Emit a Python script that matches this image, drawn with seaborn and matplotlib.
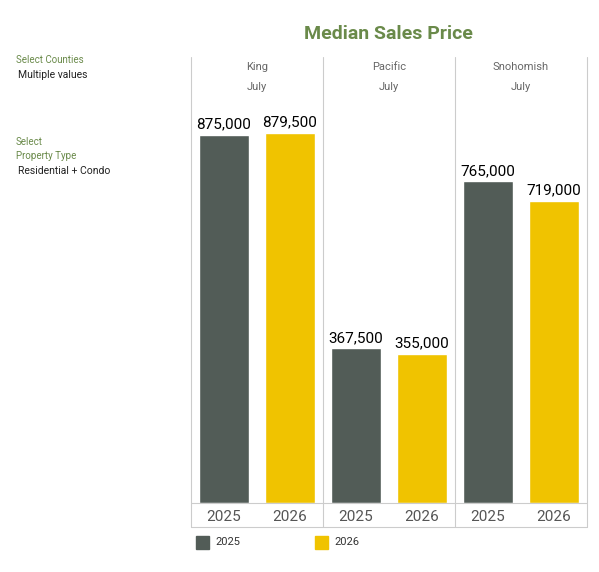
import matplotlib
matplotlib.use("Agg")
import matplotlib.pyplot as plt
import seaborn as sns
import pandas as pd
from matplotlib.lines import Line2D
from matplotlib.patches import Rectangle

counties = ["King", "Pacific", "Snohomish"]
years = ["2025", "2026"]
prices_2025 = [875000, 367500, 765000]
prices_2026 = [879500, 355000, 719000]

colors = {"2025": "#525c57", "2026": "#f0c300"}
green = "#6a8a4a"
grid_c = "#cccccc"

sns.set_style("white")
plt.rcParams['font.family'] = ['Roboto', 'DejaVu Sans']

fig = plt.figure(figsize=(5.99, 5.72), dpi=100)
W, H = 599, 572

def fx(x):
    return x / W

def fy(y):
    return 1 - y / H

left, pw = 191, 132
top, base = 100, 503

for i, c in enumerate(counties):
    df = pd.DataFrame({"year": years, "price": [prices_2025[i], prices_2026[i]]})
    ax = fig.add_axes([fx(left + i * pw), fy(base), pw / W, (base - top) / H])
    sns.barplot(data=df, x="year", y="price", hue="year", palette=colors,
                width=0.76, ax=ax, legend=False, saturation=1)
    ax.set_ylim(0, 958000)
    ax.set_xlim(-0.5, 1.5)
    ax.axis("off")
    for p, v in zip(ax.patches, df["price"]):
        ax.text(p.get_x() + p.get_width() / 2, v + 8000, f"{v:,}",
                ha="center", va="bottom", fontsize=11, color="black")
    cx = fx(left + i * pw + pw / 2)
    fig.text(cx, fy(67), c, ha="center", va="center", fontsize=8, color="#666666")
    fig.text(cx, fy(87), "July", ha="center", va="center", fontsize=8, color="#666666")
    for j, y in enumerate(years):
        fig.text(fx(left + i * pw + pw * (0.25 + 0.5 * j)), fy(517), y,
                 ha="center", va="center", fontsize=11, color="#555555")

# panel borders
for k in range(4):
    x = fx(left + k * pw)
    fig.add_artist(Line2D([x, x], [fy(57), fy(527)], color=grid_c, lw=0.8))
for y in (503, 527):
    fig.add_artist(Line2D([fx(left), fx(left + 3 * pw)], [fy(y), fy(y)], color=grid_c, lw=0.8))

fig.text(fx(388), fy(34), "Median Sales Price", ha="center", va="center",
         fontsize=14, fontweight="bold", color=green)

fig.text(fx(16), fy(60), "Select Counties", fontsize=7, color=green, va="center")
fig.text(fx(18), fy(75), "Multiple values", fontsize=7.5, color="#222222", va="center")
fig.text(fx(16), fy(142), "Select", fontsize=7, color=green, va="center")
fig.text(fx(16), fy(156), "Property Type", fontsize=7, color=green, va="center")
fig.text(fx(18), fy(171), "Residential + Condo", fontsize=7.5, color="#222222", va="center")

for x0, y in ((196, "2025"), (315, "2026")):
    fig.add_artist(Rectangle((fx(x0), fy(549)), 13 / W, 13 / H, color=colors[y]))
    fig.text(fx(x0 + 19), fy(542), y, fontsize=8, color="#333333", va="center")

fig.savefig("out.png", dpi=100)
